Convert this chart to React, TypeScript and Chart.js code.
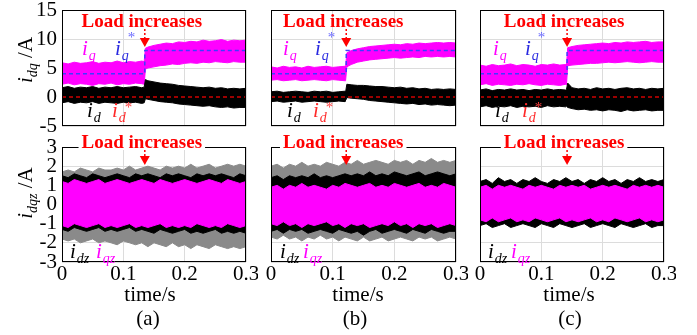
import React, { useEffect, useRef } from "react";
import { Chart, registerables } from "chart.js";
Chart.register(...registerables);

const FONT = '"Liberation Serif", "Times New Roman", serif';

// ---------- time axes ----------
const timeA = [0, 0.01, 0.02, 0.03, 0.04, 0.05, 0.06, 0.07, 0.08, 0.09, 0.1, 0.11, 0.12, 0.13, 0.134, 0.136, 0.14, 0.15, 0.16, 0.17, 0.18, 0.19, 0.2, 0.21, 0.22, 0.23, 0.24, 0.25, 0.26, 0.27, 0.28, 0.29, 0.3];
const timeB = [0, 0.01, 0.02, 0.03, 0.04, 0.05, 0.06, 0.07, 0.08, 0.09, 0.1, 0.11, 0.12, 0.121, 0.123, 0.13, 0.14, 0.15, 0.16, 0.17, 0.18, 0.19, 0.2, 0.21, 0.22, 0.23, 0.24, 0.25, 0.26, 0.27, 0.28, 0.29, 0.3];
const timeC = [0, 0.01, 0.02, 0.03, 0.04, 0.05, 0.06, 0.07, 0.08, 0.09, 0.1, 0.11, 0.12, 0.13, 0.14, 0.141, 0.143, 0.15, 0.16, 0.17, 0.18, 0.19, 0.2, 0.21, 0.22, 0.23, 0.24, 0.25, 0.26, 0.27, 0.28, 0.29, 0.3];
const timeBottom = [0, 0.01, 0.02, 0.03, 0.04, 0.05, 0.06, 0.07, 0.08, 0.09, 0.1, 0.11, 0.12, 0.13, 0.14, 0.15, 0.16, 0.17, 0.18, 0.19, 0.2, 0.21, 0.22, 0.23, 0.24, 0.25, 0.26, 0.27, 0.28, 0.29, 0.3];

// load step instants (s)
const stepA = 0.135;
const stepB = 0.122;
const stepC = 0.142;

// reference values
const iqRefLevels = [4, 8];
const idRefLevel = 0;

// ---------- (a) top: envelopes of iq and id ----------
const iqUpperA = [5.9, 5.7, 6.0, 5.8, 5.9, 6.1, 5.8, 6.0, 5.9, 6.2, 5.9, 6.1, 6.0, 6.2, 6.1, 8.4, 8.6, 8.9, 9.1, 9.3, 9.2, 9.5, 9.4, 9.6, 9.5, 9.8, 9.6, 9.7, 9.9, 9.6, 9.8, 9.7, 9.8];
const iqLowerA = [2.2, 2.4, 2.1, 2.3, 2.2, 2.0, 2.3, 2.2, 2.4, 2.1, 2.3, 2.2, 2.4, 2.3, 2.2, 4.8, 5.0, 5.2, 5.4, 5.5, 5.7, 5.6, 5.8, 5.9, 5.8, 6.0, 5.9, 6.1, 6.0, 5.9, 6.1, 6.0, 6.0];
const idUpperA = [1.6, 1.8, 1.5, 1.7, 1.6, 1.8, 1.5, 1.7, 1.6, 1.8, 1.6, 1.7, 1.8, 1.6, 1.7, 3.0, 2.8, 2.6, 2.4, 2.3, 2.2, 2.0, 1.9, 1.8, 1.7, 1.6, 1.7, 1.5, 1.6, 1.4, 1.5, 1.4, 1.5];
const idLowerA = [-1.0, -0.8, -1.1, -0.9, -1.0, -0.8, -1.1, -0.9, -1.0, -1.1, -0.9, -1.0, -0.9, -1.1, -1.0, -0.3, -0.4, -0.6, -0.8, -0.9, -1.0, -1.2, -1.3, -1.4, -1.5, -1.6, -1.5, -1.7, -1.8, -1.7, -1.9, -1.8, -1.8];

// ---------- (b) top ----------
const iqUpperB = [5.2, 5.0, 5.3, 5.1, 5.2, 5.0, 5.3, 5.1, 5.2, 5.3, 5.1, 5.2, 5.3, 5.2, 7.6, 8.0, 8.3, 8.5, 8.7, 8.8, 8.9, 9.0, 9.1, 9.0, 9.2, 9.1, 9.3, 9.2, 9.3, 9.4, 9.3, 9.4, 9.3];
const iqLowerB = [2.9, 3.0, 2.8, 2.9, 3.0, 2.8, 2.9, 3.0, 2.9, 2.8, 3.0, 2.9, 2.8, 2.9, 5.2, 5.6, 6.0, 6.2, 6.4, 6.5, 6.6, 6.7, 6.8, 6.7, 6.8, 6.9, 6.8, 7.0, 6.9, 7.0, 6.9, 7.0, 6.9];
const idUpperB = [0.9, 1.0, 0.8, 0.9, 1.0, 0.9, 0.8, 1.0, 0.9, 1.0, 0.8, 0.9, 1.0, 0.9, 2.2, 2.1, 2.0, 2.0, 1.9, 1.8, 1.8, 1.7, 1.6, 1.7, 1.5, 1.6, 1.4, 1.5, 1.3, 1.4, 1.3, 1.4, 1.3];
const idLowerB = [-0.8, -0.7, -0.9, -0.8, -0.7, -0.9, -0.8, -0.7, -0.8, -0.9, -0.8, -0.7, -0.8, -0.8, -0.1, -0.2, -0.3, -0.4, -0.6, -0.7, -0.8, -0.9, -1.0, -1.1, -1.2, -1.1, -1.3, -1.2, -1.4, -1.3, -1.4, -1.5, -1.4];

// ---------- (c) top ----------
const iqUpperC = [5.5, 5.3, 5.6, 5.4, 5.5, 5.7, 5.4, 5.6, 5.5, 5.3, 5.6, 5.5, 5.7, 5.5, 5.6, 5.5, 8.5, 8.7, 8.9, 9.0, 9.1, 9.2, 9.3, 9.2, 9.4, 9.3, 9.5, 9.4, 9.5, 9.6, 9.4, 9.5, 9.5];
const iqLowerC = [2.1, 2.3, 2.0, 2.2, 2.1, 2.0, 2.2, 2.1, 2.3, 2.1, 2.0, 2.2, 2.1, 2.0, 2.2, 2.1, 5.4, 5.5, 5.6, 5.7, 5.8, 5.8, 5.9, 6.0, 5.9, 6.0, 6.1, 6.0, 5.9, 6.0, 6.1, 6.0, 6.0];
const idUpperC = [1.2, 1.4, 1.1, 1.3, 1.2, 1.4, 1.2, 1.3, 1.1, 1.3, 1.2, 1.4, 1.2, 1.3, 1.2, 1.3, 2.4, 1.6, 1.4, 1.5, 1.3, 1.6, 1.4, 1.5, 1.3, 1.5, 1.6, 1.4, 1.5, 1.3, 1.5, 1.4, 1.5];
const idLowerC = [-1.7, -1.5, -1.8, -1.6, -1.7, -1.5, -1.8, -1.6, -1.7, -1.6, -1.8, -1.5, -1.7, -1.6, -1.7, -1.6, -1.8, -2.0, -2.2, -2.1, -2.3, -2.2, -2.4, -2.2, -2.3, -2.5, -2.2, -2.4, -2.3, -2.2, -2.4, -2.3, -2.3];

// ---------- (a) bottom: idz (grey/black) and iqz (magenta) envelopes ----------
const idzOuterUpperA = [1.7, 1.8, 1.7, 1.9, 1.8, 1.7, 1.9, 1.8, 1.8, 1.9, 1.8, 2.0, 1.8, 1.9, 2.0, 1.9, 1.8, 2.0, 1.9, 2.0, 1.9, 2.1, 1.9, 2.0, 2.1, 1.9, 2.0, 2.1, 2.0, 2.1, 2.0];
const idzOuterLowerA = [-1.8, -1.9, -1.8, -2.0, -1.9, -1.8, -2.0, -1.9, -2.0, -2.1, -1.9, -2.0, -2.1, -2.0, -2.2, -2.0, -2.1, -2.2, -2.0, -2.2, -2.1, -2.3, -2.1, -2.2, -2.3, -2.1, -2.2, -2.3, -2.2, -2.3, -2.2];
const idzUpperA = [1.5, 1.4, 1.6, 1.5, 1.4, 1.6, 1.5, 1.4, 1.5, 1.6, 1.5, 1.4, 1.6, 1.5, 1.6, 1.5, 1.4, 1.6, 1.5, 1.6, 1.5, 1.4, 1.6, 1.5, 1.6, 1.5, 1.6, 1.5, 1.4, 1.6, 1.5];
const idzLowerA = [-1.3, -1.4, -1.2, -1.3, -1.4, -1.3, -1.2, -1.4, -1.3, -1.4, -1.3, -1.2, -1.4, -1.3, -1.4, -1.5, -1.3, -1.4, -1.5, -1.4, -1.3, -1.5, -1.4, -1.5, -1.4, -1.3, -1.5, -1.4, -1.5, -1.4, -1.5];
const iqzUpperA = [1.2, 1.1, 1.3, 1.2, 1.1, 1.2, 1.3, 1.1, 1.2, 1.3, 1.2, 1.1, 1.2, 1.3, 1.2, 1.1, 1.3, 1.2, 1.1, 1.2, 1.3, 1.2, 1.1, 1.2, 1.3, 1.2, 1.1, 1.3, 1.2, 1.1, 1.2];
const iqzLowerA = [-1.1, -1.2, -1.0, -1.1, -1.2, -1.1, -1.0, -1.2, -1.1, -1.2, -1.1, -1.0, -1.2, -1.1, -1.2, -1.1, -1.0, -1.2, -1.1, -1.2, -1.1, -1.2, -1.0, -1.1, -1.2, -1.1, -1.2, -1.0, -1.1, -1.2, -1.1];

// ---------- (b) bottom ----------
const idzOuterUpperB = [2.0, 2.1, 1.9, 2.1, 2.0, 2.2, 2.0, 2.1, 2.0, 2.2, 2.1, 2.0, 2.2, 2.1, 2.3, 2.1, 2.2, 2.3, 2.2, 2.1, 2.3, 2.2, 2.3, 2.1, 2.3, 2.2, 2.4, 2.2, 2.3, 2.2, 2.3];
const idzOuterLowerB = [-1.7, -1.8, -1.6, -1.8, -1.7, -1.9, -1.7, -1.8, -1.6, -1.8, -1.7, -1.9, -1.7, -1.8, -1.9, -1.7, -1.9, -1.8, -1.7, -1.9, -1.8, -1.7, -1.8, -1.9, -1.7, -1.8, -1.7, -1.9, -1.8, -1.7, -1.8];
const idzUpperB = [1.4, 1.5, 1.3, 1.5, 1.4, 1.5, 1.4, 1.6, 1.4, 1.5, 1.4, 1.5, 1.6, 1.5, 1.6, 1.5, 1.7, 1.5, 1.6, 1.5, 1.7, 1.6, 1.5, 1.6, 1.7, 1.5, 1.6, 1.7, 1.6, 1.5, 1.6];
const idzLowerB = [-1.4, -1.3, -1.5, -1.3, -1.4, -1.3, -1.5, -1.4, -1.3, -1.4, -1.5, -1.3, -1.4, -1.5, -1.4, -1.6, -1.4, -1.3, -1.5, -1.4, -1.3, -1.4, -1.5, -1.3, -1.4, -1.5, -1.3, -1.4, -1.5, -1.4, -1.4];
const iqzUpperB = [0.9, 1.0, 0.8, 1.0, 0.9, 1.1, 0.9, 1.0, 0.9, 0.8, 1.0, 0.9, 1.1, 1.0, 0.9, 1.0, 1.1, 0.9, 1.0, 0.9, 1.1, 1.0, 0.9, 1.0, 1.1, 0.9, 1.0, 0.9, 1.1, 1.0, 0.9];
const iqzLowerB = [-1.0, -1.1, -0.9, -1.1, -1.0, -1.2, -1.0, -1.1, -1.0, -0.9, -1.1, -1.0, -1.2, -1.0, -1.1, -1.0, -1.2, -1.1, -1.0, -1.1, -0.9, -1.1, -1.0, -1.2, -1.0, -1.1, -1.0, -1.2, -1.1, -1.0, -1.1];

// ---------- (c) bottom ----------
const idzUpperC = [1.2, 1.3, 1.1, 1.4, 1.2, 1.3, 1.1, 1.3, 1.2, 1.4, 1.2, 1.1, 1.3, 1.2, 1.4, 1.2, 1.3, 1.1, 1.3, 1.2, 1.4, 1.2, 1.3, 1.1, 1.3, 1.2, 1.4, 1.2, 1.3, 1.2, 1.3];
const idzLowerC = [-1.1, -1.0, -1.2, -1.1, -1.0, -1.2, -1.1, -1.0, -1.1, -1.2, -1.0, -1.1, -1.2, -1.0, -1.1, -1.2, -1.1, -1.0, -1.2, -1.1, -1.0, -1.1, -1.2, -1.0, -1.1, -1.2, -1.1, -1.0, -1.2, -1.1, -1.1];
const iqzUpperC = [0.9, 1.0, 0.8, 1.0, 0.9, 1.0, 0.9, 0.8, 1.0, 0.9, 1.0, 0.9, 0.8, 1.0, 0.9, 1.0, 0.9, 1.0, 0.8, 0.9, 1.0, 0.9, 1.0, 0.9, 0.8, 1.0, 0.9, 1.0, 0.9, 1.0, 0.9];
const iqzLowerC = [-0.8, -0.9, -0.7, -0.9, -0.8, -0.7, -0.9, -0.8, -0.9, -0.7, -0.8, -0.9, -0.8, -0.7, -0.9, -0.8, -0.9, -0.8, -0.7, -0.9, -0.8, -0.9, -0.7, -0.8, -0.9, -0.8, -0.7, -0.9, -0.8, -0.9, -0.8];

// tick labels / captions
const xTicks = [0, 0.1, 0.2, 0.3];
const xTitle = "time/s";
const captions = ["(a)", "(b)", "(c)"];
const eventText = "Load increases";

// ---------- layout ----------
const COLS = [[62, 246], [271, 456], [480, 664]];
const ROWS = [[10, 126], [147, 262]];
const PL = 45, PR = 12, PB = 32;
const Y_W = 40, X_H = 26;

const MAG = "#ff00ff";
const GREY = "#8a8a8a";
const BLACK = "#000000";

type Band = { upper: number[]; lower: number[]; color: string };
type Ref = { x: number[]; y: number[]; color: string };
type Sym = { main: string; sub: string; color: string; dx: number; dy: number; star?: string; starDy?: number; size?: number };
type Spec = {
  col: number; row: number; times: number[]; bands: Band[]; refs: Ref[];
  yMin: number; yMax: number; yStep: number; event: number; syms: Sym[];
};

function refLines(step: number): Ref[] {
  return [
    { x: [0, step, step, 0.3], y: [iqRefLevels[0], iqRefLevels[0], iqRefLevels[1], iqRefLevels[1]], color: "#3c3cff" },
    { x: [0, 0.3], y: [idRefLevel, idRefLevel], color: "#d00000" },
  ];
}

function topSyms(dq: number, dqs: number, dd: number, dds: number): Sym[] {
  return [
    { main: "i", sub: "q", color: MAG, dx: dq, dy: 45 },
    { main: "i", sub: "q", color: "#2a2ae0", dx: dqs, dy: 45, star: "#6a6aff", starDy: -13 },
    { main: "i", sub: "d", color: BLACK, dx: dd, dy: 107 },
    { main: "i", sub: "d", color: "#ff2a2a", dx: dds, dy: 107, star: "#ff4040", starDy: -5 },
  ];
}
function botSyms(dz: number, qz: number): Sym[] {
  return [
    { main: "i", sub: "dz", color: BLACK, dx: dz, dy: 111 },
    { main: "i", sub: "qz", color: MAG, dx: qz, dy: 111 },
  ];
}

const SPECS: Spec[] = [
  { col: 0, row: 0, times: timeA, yMin: -5, yMax: 15, yStep: 5, event: stepA,
    bands: [{ upper: iqUpperA, lower: iqLowerA, color: MAG }, { upper: idUpperA, lower: idLowerA, color: BLACK }],
    refs: refLines(stepA), syms: topSyms(20, 53, 25, 50) },
  { col: 1, row: 0, times: timeB, yMin: -5, yMax: 15, yStep: 5, event: stepB,
    bands: [{ upper: iqUpperB, lower: iqLowerB, color: MAG }, { upper: idUpperB, lower: idLowerB, color: BLACK }],
    refs: refLines(stepB), syms: topSyms(12, 44, 16, 42) },
  { col: 2, row: 0, times: timeC, yMin: -5, yMax: 15, yStep: 5, event: stepC,
    bands: [{ upper: iqUpperC, lower: iqLowerC, color: MAG }, { upper: idUpperC, lower: idLowerC, color: BLACK }],
    refs: refLines(stepC), syms: topSyms(13, 45, 15, 42) },
  { col: 0, row: 1, times: timeBottom, yMin: -3, yMax: 3, yStep: 1, event: stepA,
    bands: [
      { upper: idzOuterUpperA, lower: idzOuterLowerA, color: GREY },
      { upper: idzUpperA, lower: idzLowerA, color: BLACK },
      { upper: iqzUpperA, lower: iqzLowerA, color: MAG },
    ], refs: [], syms: botSyms(8, 34) },
  { col: 1, row: 1, times: timeBottom, yMin: -3, yMax: 3, yStep: 1, event: stepB,
    bands: [
      { upper: idzOuterUpperB, lower: idzOuterLowerB, color: GREY },
      { upper: idzUpperB, lower: idzLowerB, color: BLACK },
      { upper: iqzUpperB, lower: iqzLowerB, color: MAG },
    ], refs: [], syms: botSyms(9, 32) },
  { col: 2, row: 1, times: timeBottom, yMin: -3, yMax: 3, yStep: 1, event: stepC,
    bands: [
      { upper: idzUpperC, lower: idzLowerC, color: BLACK },
      { upper: iqzUpperC, lower: iqzLowerC, color: MAG },
    ], refs: [], syms: botSyms(8, 31) },
];

function drawSym(ctx: CanvasRenderingContext2D, x: number, y: number, s: Sym) {
  const size = s.size || 21;
  ctx.save();
  ctx.textBaseline = "alphabetic";
  ctx.textAlign = "left";
  ctx.fillStyle = s.color;
  ctx.font = `italic ${size}px ${FONT}`;
  ctx.fillText(s.main, x, y);
  const w = ctx.measureText(s.main).width;
  ctx.font = `italic ${Math.round(size * 0.68)}px ${FONT}`;
  ctx.fillText(s.sub, x + w + 1, y + 5);
  const w2 = ctx.measureText(s.sub).width;
  if (s.star) {
    ctx.fillStyle = s.star;
    ctx.font = `${Math.round(size * 0.7)}px ${FONT}`;
    ctx.fillText("*", x + w + w2, y + (s.starDy || -12));
  }
  ctx.restore();
}

function Panel({ spec }: { spec: Spec }) {
  const ref = useRef<HTMLCanvasElement | null>(null);
  const yLabels = spec.col === 0;
  const xLabels = spec.row === 1;
  const PT = spec.row === 0 ? 10 : 14;
  const [l, r] = COLS[spec.col];
  const [t, b] = ROWS[spec.row];
  const cw = r - l + PL + PR;
  const ch = b - t + PT + PB;

  useEffect(() => {
    const canvas = ref.current;
    if (!canvas) return;
    const datasets: any[] = [];
    const nb = spec.bands.length;
    spec.bands.forEach((band, i) => {
      const order = 10 + (nb - i);
      datasets.push({
        data: spec.times.map((x, k) => ({ x, y: band.upper[k] })),
        borderColor: band.color, backgroundColor: band.color, borderWidth: 1,
        pointRadius: 0, fill: "+1", order, tension: 0,
      });
      datasets.push({
        data: spec.times.map((x, k) => ({ x, y: band.lower[k] })),
        borderColor: band.color, backgroundColor: band.color, borderWidth: 1,
        pointRadius: 0, fill: false, order, tension: 0,
      });
    });
    spec.refs.forEach((rf) => {
      datasets.push({
        data: rf.x.map((x, k) => ({ x, y: rf.y[k] })),
        borderColor: rf.color, borderWidth: 1.5, borderDash: [4, 3],
        pointRadius: 0, fill: false, order: 1, tension: 0,
      });
    });

    const deco = {
      id: "deco",
      afterDraw(chart: any) {
        const ctx: CanvasRenderingContext2D = chart.ctx;
        const a = chart.chartArea;
        ctx.save();
        ctx.strokeStyle = "#000";
        ctx.lineWidth = 1;
        ctx.strokeRect(a.left + 0.5, a.top + 0.5, a.right - a.left - 1, a.bottom - a.top - 1);
        // symbols
        spec.syms.forEach((s) => drawSym(ctx, a.left + s.dx, a.top + s.dy, s));
        // event annotation
        const px = chart.scales.x.getPixelForValue(spec.event);
        ctx.font = `bold 19px ${FONT}`;
        ctx.textAlign = "center";
        ctx.textBaseline = "alphabetic";
        const tw = ctx.measureText(eventText).width;
        const tx = px - 3;
        const top = spec.row === 0;
        const base = top ? a.top + 17 : a.top + 1;
        if (!top) {
          ctx.fillStyle = "#fff";
          ctx.fillRect(tx - tw / 2 - 3, a.top - 2, tw + 6, 5);
        }
        ctx.fillStyle = "#ff0000";
        ctx.fillText(eventText, tx, base);
        const d0 = top ? a.top + 19 : a.top + 3;
        const d1 = top ? a.top + 28 : a.top + 9;
        const h1 = top ? a.top + 37 : a.top + 18;
        ctx.strokeStyle = "#ff0000";
        ctx.lineWidth = 1.5;
        ctx.setLineDash([2, 2]);
        ctx.beginPath();
        ctx.moveTo(px, d0);
        ctx.lineTo(px, d1);
        ctx.stroke();
        ctx.setLineDash([]);
        ctx.beginPath();
        ctx.moveTo(px - 5, d1);
        ctx.lineTo(px + 5, d1);
        ctx.lineTo(px, h1);
        ctx.closePath();
        ctx.fill();
        ctx.restore();
      },
    };

    const chart = new Chart(canvas, {
      type: "line",
      data: { datasets },
      options: {
        responsive: false,
        animation: false,
        devicePixelRatio: 1,
        layout: {
          padding: {
            left: PL - (yLabels ? Y_W : 0),
            right: PR,
            top: PT,
            bottom: PB - (xLabels ? X_H : 0),
          },
        },
        plugins: { legend: { display: false }, tooltip: { enabled: false }, title: { display: false } },
        scales: {
          x: {
            type: "linear", min: 0, max: 0.3,
            afterBuildTicks: (s: any) => { s.ticks = xTicks.map((v) => ({ value: v })); },
            ticks: {
              display: xLabels, color: "#000", padding: 0, maxRotation: 0, autoSkip: false,
              font: { family: FONT, size: 21 },
              callback: (v: any) => String(Math.round(Number(v) * 10) / 10),
            },
            grid: { color: "#dcdcdc", drawTicks: false },
            border: { display: false },
            afterFit: (s: any) => { s.height = xLabels ? X_H : 0; s.paddingLeft = 0; s.paddingRight = 0; },
          },
          y: {
            type: "linear", min: spec.yMin, max: spec.yMax,
            ticks: {
              display: yLabels, stepSize: spec.yStep, color: "#000", padding: 5, autoSkip: false,
              font: { family: FONT, size: 21 },
              callback: (v: any) => String(v),
            },
            grid: { color: "#dcdcdc", drawTicks: false },
            border: { display: false },
            afterFit: (s: any) => { s.width = yLabels ? Y_W : 0; s.paddingTop = 0; s.paddingBottom = 0; },
          },
        },
      } as any,
      plugins: [deco],
    });
    return () => chart.destroy();
  }, []);

  return (
    <canvas
      ref={ref}
      width={cw}
      height={ch}
      style={{ position: "absolute", left: l - PL, top: t - PT, width: cw, height: ch }}
    />
  );
}

const textBase: React.CSSProperties = {
  position: "absolute",
  fontFamily: FONT,
  fontSize: 21,
  lineHeight: 1,
  whiteSpace: "nowrap",
  color: "#000",
  transform: "translate(-50%, -50%)",
};

const titleX = [150, 358, 569];
const captionX = [148, 355, 570];

export default function App() {
  return (
    <div style={{ position: "absolute", left: 0, top: 0, width: 697, height: 335, background: "#fff", overflow: "hidden" }}>
      {SPECS.map((s, i) => (
        <Panel key={i} spec={s} />
      ))}
      <div style={{ ...textBase, left: 25, top: 60, transform: "translate(-50%, -50%) rotate(-90deg)" }}>
        <i>i</i>
        <i style={{ fontSize: 14, position: "relative", top: 5 }}>dq</i>
        <span> /A</span>
      </div>
      <div style={{ ...textBase, left: 25, top: 193, transform: "translate(-50%, -50%) rotate(-90deg)" }}>
        <i>i</i>
        <i style={{ fontSize: 14, position: "relative", top: 5 }}>dqz</i>
        <span> /A</span>
      </div>
      {titleX.map((x, i) => (
        <div key={"t" + i} style={{ ...textBase, left: x, top: 294 }}>{xTitle}</div>
      ))}
      {captionX.map((x, i) => (
        <div key={"c" + i} style={{ ...textBase, left: x, top: 318 }}>{captions[i]}</div>
      ))}
    </div>
  );
}
